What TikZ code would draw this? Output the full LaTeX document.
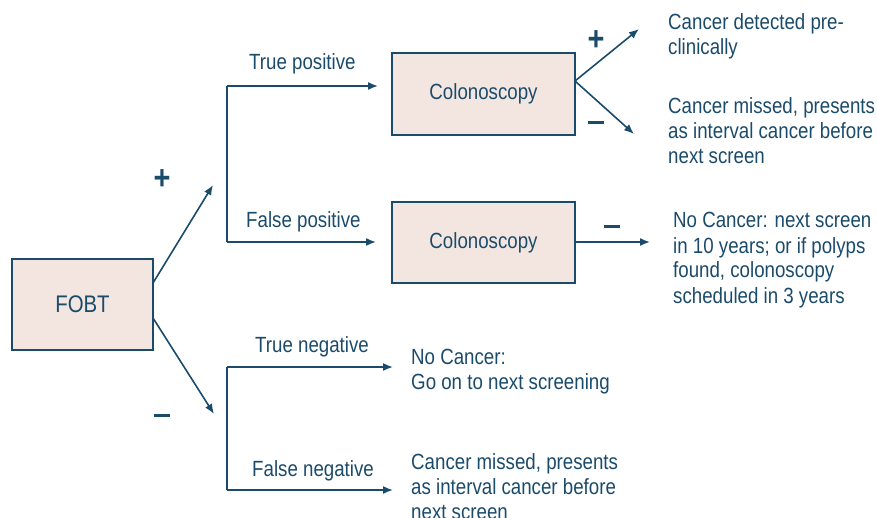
\documentclass[tikz,border=0pt]{standalone}
\usepackage{fontspec}
\setmainfont{Liberation Sans}[FakeStretch=0.85]
\usetikzlibrary{arrows.meta}
\definecolor{dblue}{HTML}{1B4B6B}
\definecolor{pinkfill}{HTML}{F3E6E1}
\begin{document}
\begin{tikzpicture}[x=1pt,y=-1pt,
  every node/.style={text=dblue,font=\fontsize{22}{25}\selectfont},
  boxnode/.style={draw=dblue,line width=1.6pt,fill=pinkfill,inner sep=0pt},
  conn/.style={draw=dblue,line width=1.6pt},
  arr/.style={conn,-{Latex[length=10pt,width=8pt]}},
  txt/.style={align=left,anchor=base west,inner sep=0pt},
  lbl/.style={anchor=base west,inner sep=0pt},
  sign/.style={font=\fontsize{34}{34}\selectfont\bfseries,inner sep=0pt}]
\useasboundingbox (0,0) rectangle (877,518);
% boxes
\node[boxnode,minimum width=141pt,minimum height=91pt,font=\fontsize{24}{25}\selectfont] (fobt) at (82.5,304.5) {FOBT};
\node[boxnode,minimum width=183pt,minimum height=82pt] (col1) at (483.5,94) {Colonoscopy};
\node[boxnode,minimum width=183pt,minimum height=81pt] (col2) at (483.5,242.5) {Colonoscopy};
% coordinates
\coordinate (f1) at (153,283);
\coordinate (f2) at (153,318);
\coordinate (pe) at (213,185);
\coordinate (ne) at (214,414);
\coordinate (tp0) at (227,86);
\coordinate (fp0) at (227,242);
\coordinate (tpe) at (378,86);
\coordinate (fpe) at (376,242);
\coordinate (tn0) at (227,367);
\coordinate (fn0) at (227,490);
\coordinate (tne) at (393,367);
\coordinate (fne) at (393,490);
\coordinate (c1) at (575,81);
\coordinate (c1u) at (639,29);
\coordinate (c1d) at (634,134);
\coordinate (c2) at (575,242);
\coordinate (c2e) at (650,242);
% connectors
\draw[arr] (f1) -- (pe);
\draw[arr] (f2) -- (ne);
\draw[conn] (tp0) -- (fp0);
\draw[arr] (tp0) -- (tpe);
\draw[arr] (fp0) -- (fpe);
\draw[conn] (tn0) -- (fn0);
\draw[arr] (tn0) -- (tne);
\draw[arr] (fn0) -- (fne);
\draw[arr] (c1) -- (c1u);
\draw[arr] (c1) -- (c1d);
\draw[arr] (c2) -- (c2e);
% signs
\node[sign] (s1) at (162,180) {+};
\node[sign] (s2) at (162,415) {\rule{16pt}{3pt}};
\node[sign] (s3) at (596,41) {+};
\node[sign] (s4) at (596,123) {\rule{16pt}{3pt}};
\node[sign] (s5) at (612,227) {\rule{16pt}{3pt}};
% labels
\node[lbl] (l1) at (249,70) {True positive};
\node[lbl] (l2) at (246,228) {False positive};
\node[lbl] (l3) at (255,352) {True negative};
\node[lbl] (l4) at (252,476) {False negative};
% outcome texts (anchored at the baseline of their last line)
\node[txt] (o1) at (668,55) {Cancer detected pre-\\clinically};
\node[txt] (o2) at (668,164) {Cancer missed, presents\\as interval cancer before\\next screen};
\node[txt] (o3) at (673,303) {No Cancer: next screen\\in 10 years; or if polyps\\found, colonoscopy\\scheduled in 3 years};
\node[txt] (o4) at (411,389) {No Cancer:\\Go on to next screening};
\node[txt] (o5) at (411,519) {Cancer missed, presents\\as interval cancer before\\next screen};
\end{tikzpicture}
\end{document}
